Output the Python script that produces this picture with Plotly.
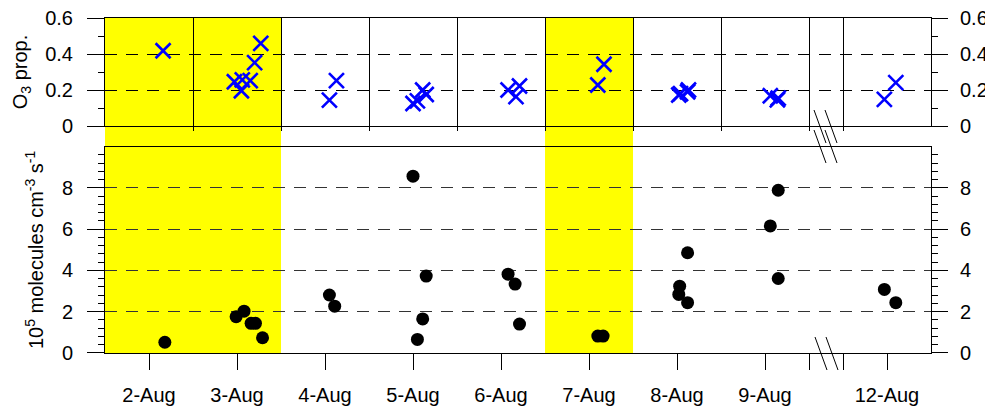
import plotly.graph_objects as go

# ---------------- data ----------------
day_labels = ["2-Aug", "3-Aug", "4-Aug", "5-Aug", "6-Aug", "7-Aug", "8-Aug", "9-Aug", "12-Aug"]
sunny_days = ["2-Aug", "3-Aug", "7-Aug"]

# O3 proportion: day, fraction of day, value
o3_day = ["2-Aug",
          "3-Aug", "3-Aug", "3-Aug", "3-Aug", "3-Aug", "3-Aug",
          "4-Aug", "4-Aug",
          "5-Aug", "5-Aug", "5-Aug", "5-Aug",
          "6-Aug", "6-Aug", "6-Aug",
          "7-Aug", "7-Aug",
          "8-Aug", "8-Aug", "8-Aug", "8-Aug",
          "9-Aug", "9-Aug", "9-Aug",
          "12-Aug", "12-Aug"]
o3_frac = [0.66,
           0.47, 0.55, 0.56, 0.65, 0.70, 0.77,
           0.55, 0.63,
           0.50, 0.55, 0.61, 0.65,
           0.58, 0.67, 0.71,
           0.60, 0.67,
           0.52, 0.54, 0.62, 0.63,
           0.56, 0.64, 0.65,
           0.47, 0.60]
o3_prop = [0.418,
           0.246, 0.196, 0.256, 0.252, 0.352, 0.459,
           0.144, 0.252,
           0.125, 0.140, 0.200, 0.175,
           0.200, 0.163, 0.222,
           0.228, 0.343,
           0.172, 0.180, 0.190, 0.200,
           0.168, 0.145, 0.155,
           0.148, 0.241]

# production rate (1e5 molecules cm-3 s-1)
rate_day = ["2-Aug",
            "3-Aug", "3-Aug", "3-Aug", "3-Aug", "3-Aug",
            "4-Aug", "4-Aug",
            "5-Aug", "5-Aug", "5-Aug", "5-Aug",
            "6-Aug", "6-Aug", "6-Aug",
            "7-Aug", "7-Aug",
            "8-Aug", "8-Aug", "8-Aug", "8-Aug",
            "9-Aug", "9-Aug", "9-Aug",
            "12-Aug", "12-Aug"]
rate_frac = [0.68,
             0.49, 0.58, 0.66, 0.71, 0.79,
             0.55, 0.61,
             0.50, 0.55, 0.61, 0.65,
             0.58, 0.66, 0.71,
             0.60, 0.66,
             0.52, 0.53, 0.62, 0.62,
             0.56, 0.65, 0.65,
             0.47, 0.60]
rate_val = [0.52,
            1.76, 2.03, 1.44, 1.44, 0.74,
            2.81, 2.27,
            8.57, 0.66, 1.65, 3.73,
            3.82, 3.34, 1.40,
            0.82, 0.82,
            2.84, 3.24, 4.86, 2.44,
            6.16, 7.89, 3.61,
            3.08, 2.44]

o3_ticks = [0, 0.2, 0.4, 0.6]
o3_ticktext = ["0", "0.2", "0.4", "0.6"]
o3_minor = [0.1, 0.3, 0.5]
rate_ticks = [0, 2, 4, 6, 8]
rate_ticktext = ["0", "2", "4", "6", "8"]
rate_minor = [0.4, 0.8, 1.2, 1.6, 2.4, 2.8, 3.2, 3.6, 4.4, 4.8, 5.2, 5.6,
              6.4, 6.8, 7.2, 7.6, 8.4, 8.8, 9.2, 9.6]

# ---------------- broken time axis ----------------
GAP = 0.386  # width of the cut between 9-Aug and 12-Aug, in days
day_start = {}
pos = 0.0
for d in day_labels:
    day_start[d] = pos
    pos += 1.0
    if d == "9-Aug":
        pos += GAP
x_end = pos

o3_x = [day_start[d] + f for d, f in zip(o3_day, o3_frac)]
rate_x = [day_start[d] + f for d, f in zip(rate_day, rate_frac)]

centers = [day_start[d] + 0.5 for d in day_labels]
bounds = sorted(set([day_start[d] for d in day_labels[1:]] + [day_start["9-Aug"] + 1.0]))
break_edges = [day_start["9-Aug"] + 1.0, day_start["12-Aug"]]

FONT = "Liberation Sans, Arial, sans-serif"
FS = 20
fig = go.Figure()

fig.add_trace(go.Scatter(
    x=o3_x, y=o3_prop, mode="markers", xaxis="x2", yaxis="y2",
    marker=dict(symbol="x-thin-open", size=15, color="#0000ff",
                line=dict(color="#0000ff", width=2.6)),
    showlegend=False, cliponaxis=False))

fig.add_trace(go.Scatter(
    x=rate_x, y=rate_val, mode="markers", xaxis="x", yaxis="y",
    marker=dict(symbol="circle", size=13, color="black"),
    showlegend=False, cliponaxis=False))

# empty traces so that the right-hand (mirrored) axes get drawn
fig.add_trace(go.Scatter(x=[None], y=[None], xaxis="x", yaxis="y3", mode="markers",
                         showlegend=False, hoverinfo="skip"))
fig.add_trace(go.Scatter(x=[None], y=[None], xaxis="x2", yaxis="y4", mode="markers",
                         showlegend=False, hoverinfo="skip"))

tickfont = dict(family=FONT, size=FS, color="black")
dash = "12px,9px"

major_vals = centers[:-1] + break_edges + [centers[-1]]
major_text = day_labels[:-1] + ["", ""] + [day_labels[-1]]

def yax(rng, vals, text, minor, tlen, standoff, **kw):
    d = dict(range=rng, tickmode="array", tickvals=vals, ticktext=text,
             ticks="outside", ticklen=tlen, tickwidth=1,
             tickcolor="black", tickfont=tickfont, ticklabelstandoff=standoff,
             ticklabeloverflow="allow",
             minor=dict(tickmode="array", tickvals=minor, ticks="outside",
                        ticklen=6, tickcolor="black", showgrid=False),
             zeroline=False)
    d.update(kw)
    return d

# page body has an 8px margin: figure sized so the plot area lands where the reference has it
fig.update_layout(
    width=985, height=398, autosize=False,
    margin=dict(l=97, r=62, t=10, b=53, autoexpand=False),
    paper_bgcolor="white", plot_bgcolor="rgba(0,0,0,0)",
    font=dict(family=FONT, size=FS, color="black"),
    xaxis=dict(domain=[0, 1], anchor="y", range=[0, x_end],
               tickmode="array", tickvals=major_vals, ticktext=major_text,
               ticks="outside", ticklen=16, tickwidth=1, tickcolor="black",
               tickfont=tickfont, ticklabelstandoff=8, ticklabeloverflow="allow",
               showgrid=False, zeroline=False,
               showline=True, linecolor="black", linewidth=1, mirror=True),
    xaxis3=dict(overlaying="x", anchor="y", side="bottom", range=[0, x_end],
                tickmode="array", tickvals=bounds, showticklabels=False,
                ticks="outside", ticklen=10, tickwidth=1, tickcolor="black",
                showgrid=True, gridcolor="black", gridwidth=1,
                zeroline=False, showline=False),
    xaxis2=dict(domain=[0, 1], anchor="y2", range=[0, x_end], matches="x",
                tickmode="array", tickvals=bounds, showticklabels=False,
                ticks="outside", ticklen=4, tickwidth=1, tickcolor="black",
                showgrid=True, gridcolor="black", gridwidth=1, zeroline=False,
                showline=True, linecolor="black", linewidth=1, mirror=True),
    yaxis=yax([0, 10], rate_ticks, rate_ticktext, rate_minor, 17, 10,
              domain=[0, 0.6158], anchor="x",
              showgrid=True, gridcolor="#333333", gridwidth=1, griddash=dash,
              showline=True, linecolor="black", linewidth=1, mirror=True,
              title=dict(text="10<sup>5</sup> molecules cm<sup>-3</sup> s<sup>-1</sup>",
                         font=dict(family=FONT, size=FS, color="black"), standoff=12)),
    yaxis3=yax([0, 10], rate_ticks, rate_ticktext, rate_minor, 16, 8,
               overlaying="y", anchor="x", side="right",
               showgrid=False, showline=False),
    yaxis2=yax([0, 0.6], o3_ticks, o3_ticktext, o3_minor, 17, 10,
               domain=[0.6776, 1], anchor="x2",
               showgrid=True, gridcolor="black", gridwidth=1, griddash=dash,
               showline=True, linecolor="black", linewidth=1, mirror=True,
               title=dict(text="O<sub>3</sub> prop.",
                          font=dict(family=FONT, size=FS, color="black"), standoff=12)),
    yaxis4=yax([0, 0.6], o3_ticks, o3_ticktext, o3_minor, 16, 8,
               overlaying="y2", anchor="x2", side="right",
               showgrid=False, showline=False),
)

for d in sunny_days:
    fig.add_shape(type="rect", xref="x", yref="paper",
                  x0=day_start[d], x1=day_start[d] + 1, y0=0, y1=1,
                  fillcolor="#ffff00", line=dict(width=0), layer="below")

# axis-break marks (reference pixel geometry -> paper coords)
L, R, T, B = 105, 931, 18, 353
def px(x):
    return (x - L) / (R - L)
def py(y):
    return (B - y) / (B - T)

breaks = [
    ((814, 110), (826, 143)), ((825, 110), (837, 143)),
    ((814, 130), (826, 163)), ((825, 130), (837, 163)),
    ((815, 337), (827, 370)), ((826, 337), (838, 370)),
]
for (x0, y0), (x1, y1) in breaks:
    fig.add_shape(type="line", xref="paper", yref="paper",
                  x0=px(x0), y0=py(y0), x1=px(x1), y1=py(y1),
                  line=dict(color="black", width=1))

fig.write_html("out.html")
